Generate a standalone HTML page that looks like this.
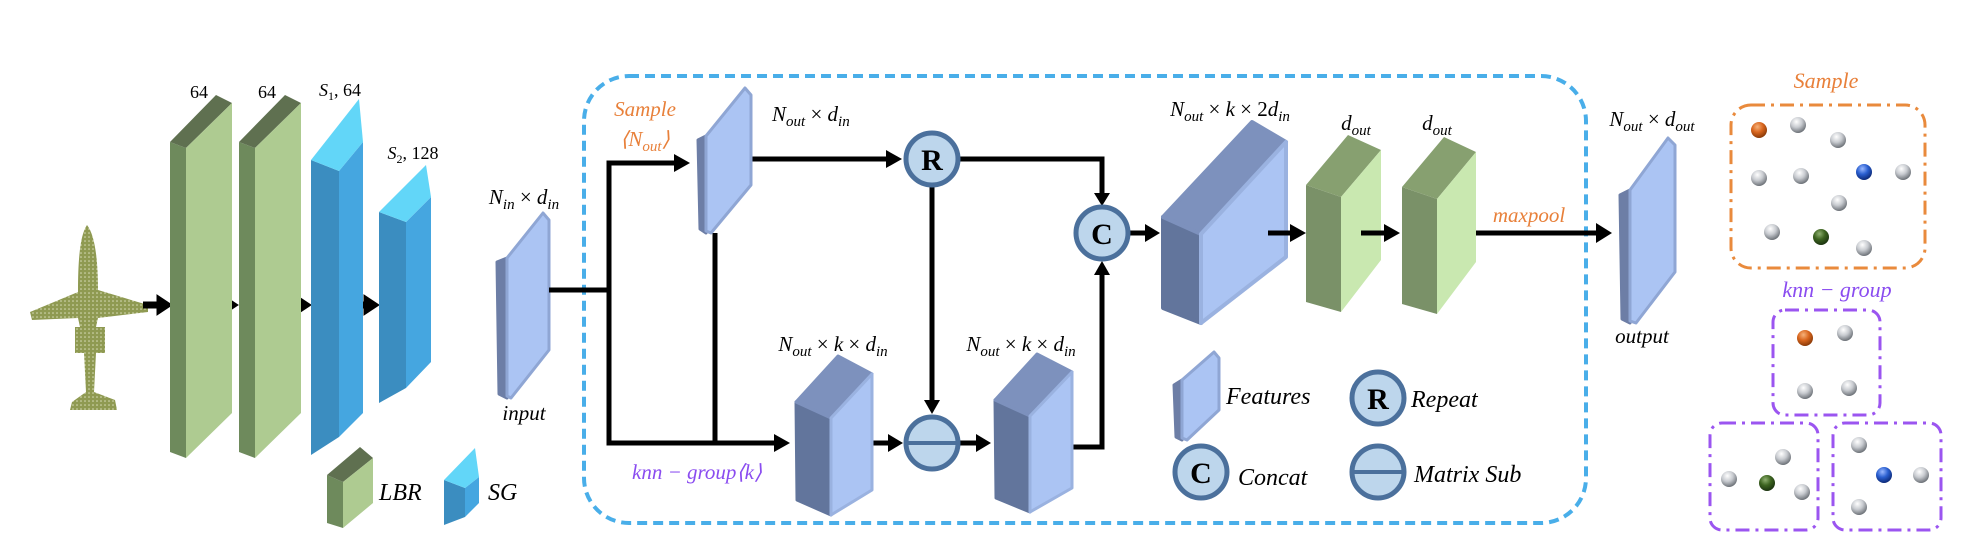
<!DOCTYPE html>
<html><head><meta charset="utf-8"><style>
html,body{margin:0;padding:0;background:#fff;}
svg{display:block;}
text{font-family:"Liberation Serif",serif;font-style:italic;fill:#000;}
</style></head><body>
<svg width="1988" height="548" viewBox="0 0 1988 548" xmlns="http://www.w3.org/2000/svg">
<defs>
<radialGradient id="gs" cx="0.4" cy="0.3" r="0.7"><stop offset="0" stop-color="#fff"/><stop offset="0.5" stop-color="#c8cbd0"/><stop offset="1" stop-color="#6d7278"/></radialGradient>
<radialGradient id="go" cx="0.4" cy="0.3" r="0.7"><stop offset="0" stop-color="#f6b27a"/><stop offset="0.5" stop-color="#d9661e"/><stop offset="1" stop-color="#8a3a08"/></radialGradient>
<radialGradient id="gb" cx="0.4" cy="0.3" r="0.7"><stop offset="0" stop-color="#9ab8ff"/><stop offset="0.5" stop-color="#2a5fd0"/><stop offset="1" stop-color="#0d2a78"/></radialGradient>
<radialGradient id="gg" cx="0.4" cy="0.3" r="0.7"><stop offset="0" stop-color="#8fb070"/><stop offset="0.5" stop-color="#3d6420"/><stop offset="1" stop-color="#1c3410"/></radialGradient>
<pattern id="dots" width="4" height="4" patternUnits="userSpaceOnUse"><rect width="4" height="4" fill="#8f9a52"/><circle cx="1" cy="1" r="0.8" fill="#d8dcb8"/></pattern>
</defs>

<!-- airplane -->
<g fill="url(#dots)">
<path d="M87,225 C80,235 78,260 78,292 L30,312 L32,320 L78,318 L80,327 L75,327 L75,353 L84,353 L86,392 L72,402 L70,410 L117,410 L115,400 L94,392 L96,353 L105,353 L105,327 L96,327 L98,318 L148,312 L148,305 L98,290 C98,260 95,235 87,225 Z"/>
</g>

<!-- small arrows -->
<g fill="#000" stroke="#000">
<line x1="143" y1="305" x2="160" y2="305" stroke-width="7"/><polygon points="157,295 172,305 157,315"/>
<line x1="209" y1="305" x2="226" y2="305" stroke-width="7"/><polygon points="223,295 238,305 223,315"/>
<line x1="281" y1="305" x2="299" y2="305" stroke-width="7"/><polygon points="296,295 311,305 296,315"/>
<line x1="349" y1="305" x2="367" y2="305" stroke-width="7"/><polygon points="364,295 379,305 364,315"/>
</g>

<!-- LBR blocks -->
<g>
<polygon points="170,142 186,148 186,458 170,452" fill="#6e8a5c"/>
<polygon points="170,142 216,95 232,103 186,148" fill="#5f7050"/>
<polygon points="186,148 232,103 232,413 186,458" fill="#aecb91"/>
<polygon points="239,142 255,148 255,458 239,452" fill="#6e8a5c"/>
<polygon points="239,142 285,95 301,103 255,148" fill="#5f7050"/>
<polygon points="255,148 301,103 301,413 255,458" fill="#aecb91"/>
</g>
<!-- SG blocks -->
<g>
<polygon points="311,160 339,171 339,437 311,455" fill="#3b8dc0"/>
<polygon points="339,171 363,142 363,413 339,437" fill="#45a6e0"/>
<polygon points="311,160 359,99 363,142 339,171" fill="#62d6f8"/>
<polygon points="379,212 406,222 406,388 379,403" fill="#3b8dc0"/>
<polygon points="406,222 431,197 431,362 406,388" fill="#45a6e0"/>
<polygon points="379,212 426,165 431,197 406,222" fill="#62d6f8"/>
</g>
<g font-size="18" text-anchor="middle">
<text x="199" y="98" style="font-style:normal">64</text>
<text x="267" y="98" style="font-style:normal">64</text>
<text x="340" y="96"><tspan>S</tspan><tspan font-size="12" dy="4" style="font-style:normal">1</tspan><tspan dy="-4" style="font-style:normal">, 64</tspan></text>
<text x="413" y="159"><tspan>S</tspan><tspan font-size="12" dy="4" style="font-style:normal">2</tspan><tspan dy="-4" style="font-style:normal">, 128</tspan></text>
</g>

<!-- legend LBR / SG -->
<polygon points="327,475 343,482 343,528 327,523" fill="#6e8a5c"/>
<polygon points="327,475 360,447 373,458 343,482" fill="#5f7050"/>
<polygon points="343,482 373,458 373,503 343,528" fill="#aecb91"/>
<text x="379" y="500" font-size="24">LBR</text>
<polygon points="444,480 465,488 465,517 444,525" fill="#3b8dc0"/>
<polygon points="465,488 479,477 479,503 465,517" fill="#45a6e0"/>
<polygon points="444,480 475,448 479,477 465,488" fill="#62d6f8"/>
<text x="488" y="500" font-size="24">SG</text>

<!-- input slab -->
<g stroke-linejoin="round">
<polygon points="497,262 507,258 507,398 499,394" fill="#6d7ea6" stroke="#6d7ea6" stroke-width="3"/>
<polygon points="507,258 543,213 549,220 549,350 511,398 507,396" fill="#abc4f3" stroke="#8fa6d4" stroke-width="3"/>
</g>
<text x="524" y="204" font-size="21" text-anchor="middle">N<tspan font-size="15" dy="5">in</tspan><tspan dy="-5" style="font-style:normal"> × </tspan>d<tspan font-size="15" dy="5">in</tspan></text>
<text x="524" y="420" font-size="21" text-anchor="middle">input</text>

<!-- dashed box -->
<rect x="584" y="76" width="1002" height="447" rx="45" fill="none" stroke="#49aee9" stroke-width="4" stroke-dasharray="10 6"/>

<!-- connectors -->
<g stroke="#000" stroke-width="5" fill="none">
<polyline points="549,290 609,290"/>
<polyline points="676,163 609,163 609,443 776,443"/>
<line x1="715" y1="233" x2="715" y2="443"/>
<line x1="751" y1="159" x2="888" y2="159"/>
<polyline points="958,159 1102,159 1102,193"/>
<line x1="932" y1="185" x2="932" y2="402"/>
<line x1="872" y1="443" x2="890" y2="443"/>
<line x1="958" y1="443" x2="978" y2="443"/>
<polyline points="1072,447 1102,447 1102,272"/>
<line x1="1128" y1="233" x2="1148" y2="233"/>
<line x1="1476" y1="233" x2="1598" y2="233"/>
</g>
<g fill="#000">
<polygon points="674,154 690,163 674,172"/>
<polygon points="774,434 790,443 774,452"/>
<polygon points="886,150 902,159 886,168"/>
<polygon points="1094,193 1102,206 1110,193"/>
<polygon points="924,400 932,414 940,400"/>
<polygon points="888,434 903,443 888,452"/>
<polygon points="976,434 991,443 976,452"/>
<polygon points="1094,275 1102,261 1110,275"/>
<polygon points="1145,224 1160,233 1145,242"/>
<polygon points="1596,223 1612,233 1596,243"/>
</g>

<!-- sample slab -->
<g stroke-linejoin="round">
<polygon points="698,140 706,136 706,233 700,229" fill="#6d7ea6" stroke="#6d7ea6" stroke-width="3"/>
<polygon points="706,136 745,88 751,95 751,185 711,233 706,231" fill="#abc4f3" stroke="#8fa6d4" stroke-width="3"/>
</g>
<text x="645" y="116" font-size="21" text-anchor="middle" style="fill:#e8803a">Sample</text>
<text x="645" y="146" font-size="21" text-anchor="middle" style="fill:#e8803a">⟨N<tspan font-size="15" dy="5">out</tspan><tspan dy="-5">⟩</tspan></text>
<text x="772" y="121" font-size="21">N<tspan font-size="15" dy="5">out</tspan><tspan dy="-5" style="font-style:normal"> × </tspan>d<tspan font-size="15" dy="5">in</tspan></text>

<!-- knn blocks -->
<g stroke-linejoin="round" stroke-width="3">
<polygon points="796,402 831,418 831,515 797,500" fill="#62759c" stroke="#62759c"/>
<polygon points="796,402 838,356 872,374 831,418" fill="#7d91bd" stroke="#7d91bd"/>
<polygon points="831,418 872,374 872,490 831,515" fill="#abc4f3" stroke="#9ab2e0"/>
<polygon points="995,400 1030,416 1030,512 996,498" fill="#62759c" stroke="#62759c"/>
<polygon points="995,400 1037,354 1072,372 1030,416" fill="#7d91bd" stroke="#7d91bd"/>
<polygon points="1030,416 1072,372 1072,488 1030,512" fill="#abc4f3" stroke="#9ab2e0"/>
</g>
<text x="833" y="351" font-size="21" text-anchor="middle">N<tspan font-size="15" dy="5">out</tspan><tspan dy="-5" style="font-style:normal"> × </tspan>k<tspan style="font-style:normal"> × </tspan>d<tspan font-size="15" dy="5">in</tspan></text>
<text x="1021" y="351" font-size="21" text-anchor="middle">N<tspan font-size="15" dy="5">out</tspan><tspan dy="-5" style="font-style:normal"> × </tspan>k<tspan style="font-style:normal"> × </tspan>d<tspan font-size="15" dy="5">in</tspan></text>
<text x="632" y="479" font-size="21" style="fill:#8a4cf0">knn − group⟨k⟩</text>

<!-- circles -->
<g stroke="#4b709c" stroke-width="5" fill="#bdd6ec">
<circle cx="932" cy="159" r="26"/>
<circle cx="1102" cy="233" r="26"/>
<circle cx="932" cy="443" r="26"/>
<circle cx="1378" cy="398" r="26"/>
<circle cx="1201" cy="472" r="26"/>
<circle cx="1378" cy="472" r="26"/>
</g>
<g stroke="#4b709c" stroke-width="4">
<line x1="906" y1="443" x2="958" y2="443"/>
<line x1="1352" y1="472" x2="1404" y2="472"/>
</g>
<g font-size="30" font-weight="bold" text-anchor="middle">
<text x="932" y="170" style="font-style:normal">R</text>
<text x="1102" y="244" style="font-style:normal">C</text>
<text x="1378" y="409" style="font-style:normal">R</text>
<text x="1201" y="483" style="font-style:normal">C</text>
</g>

<!-- big block -->
<g stroke-linejoin="round" stroke-width="4">
<polygon points="1163,217 1201,234 1201,323 1163,308" fill="#62759c" stroke="#62759c"/>
<polygon points="1163,217 1252,122 1286,142 1201,234" fill="#7d91bd" stroke="#7d91bd"/>
<polygon points="1201,234 1286,142 1286,257 1201,323" fill="#abc4f3" stroke="#9ab2e0"/>
</g>
<text x="1230" y="116" font-size="21" text-anchor="middle">N<tspan font-size="15" dy="5">out</tspan><tspan dy="-5" style="font-style:normal"> × </tspan>k<tspan style="font-style:normal"> × 2</tspan>d<tspan font-size="15" dy="5">in</tspan></text>
<line x1="1268" y1="233" x2="1292" y2="233" stroke="#000" stroke-width="5"/>

<!-- dout blocks -->
<polygon points="1306,185 1341,197 1341,312 1306,302" fill="#7a9168"/>
<polygon points="1306,185 1348,135 1381,150 1341,197" fill="#87a070"/>
<polygon points="1341,197 1381,150 1381,260 1341,312" fill="#c9e8b0"/>
<polygon points="1402,187 1437,199 1437,314 1402,304" fill="#7a9168"/>
<polygon points="1402,187 1444,137 1476,152 1437,199" fill="#87a070"/>
<polygon points="1437,199 1476,152 1476,262 1437,314" fill="#c9e8b0"/>
<line x1="1361" y1="233" x2="1386" y2="233" stroke="#000" stroke-width="5"/>
<polygon points="1384,224 1400,233 1384,242" fill="#000"/>
<polygon points="1290,224 1306,233 1290,242" fill="#000"/>
<text x="1356" y="130" font-size="21" text-anchor="middle">d<tspan font-size="15" dy="5">out</tspan></text>
<text x="1437" y="130" font-size="21" text-anchor="middle">d<tspan font-size="15" dy="5">out</tspan></text>
<text x="1529" y="222" font-size="21" text-anchor="middle" style="fill:#e8803a">maxpool</text>

<!-- output slab -->
<g stroke-linejoin="round">
<polygon points="1620,195 1630,190 1630,323 1622,319" fill="#6d7ea6" stroke="#6d7ea6" stroke-width="3"/>
<polygon points="1630,190 1668,138 1675,145 1675,272 1636,323 1630,321" fill="#abc4f3" stroke="#8fa6d4" stroke-width="3"/>
</g>
<text x="1652" y="126" font-size="21" text-anchor="middle">N<tspan font-size="15" dy="5">out</tspan><tspan dy="-5" style="font-style:normal"> × </tspan>d<tspan font-size="15" dy="5">out</tspan></text>
<text x="1642" y="343" font-size="21" text-anchor="middle">output</text>

<!-- legend features -->
<g stroke-linejoin="round">
<polygon points="1174,385 1182,380 1182,440 1176,437" fill="#6d7ea6" stroke="#6d7ea6" stroke-width="3"/>
<polygon points="1182,380 1214,352 1219,358 1219,410 1187,440 1182,438" fill="#abc4f3" stroke="#8fa6d4" stroke-width="3"/>
</g>
<text x="1226" y="404" font-size="24">Features</text>
<text x="1411" y="407" font-size="24">Repeat</text>
<text x="1238" y="485" font-size="24">Concat</text>
<text x="1414" y="482" font-size="24">Matrix Sub</text>

<!-- right panel -->
<text x="1826" y="88" font-size="22" text-anchor="middle" style="fill:#e8803a">Sample</text>
<rect x="1731" y="105" width="194" height="163" rx="20" fill="none" stroke="#e98a3c" stroke-width="3" stroke-dasharray="14 6 3 6"/>
<text x="1837" y="297" font-size="22" text-anchor="middle" style="fill:#8a4cf0">knn − group</text>
<g fill="none" stroke="#9b55f0" stroke-width="3" stroke-dasharray="14 6 3 6">
<rect x="1773" y="310" width="107" height="105" rx="12"/>
<rect x="1710" y="423" width="108" height="107" rx="12"/>
<rect x="1833" y="423" width="108" height="107" rx="12"/>
</g>
<g>
<circle cx="1759" cy="130" r="8" fill="url(#go)"/>
<circle cx="1798" cy="125" r="8" fill="url(#gs)"/>
<circle cx="1838" cy="140" r="8" fill="url(#gs)"/>
<circle cx="1759" cy="178" r="8" fill="url(#gs)"/>
<circle cx="1801" cy="176" r="8" fill="url(#gs)"/>
<circle cx="1864" cy="172" r="8" fill="url(#gb)"/>
<circle cx="1903" cy="172" r="8" fill="url(#gs)"/>
<circle cx="1839" cy="203" r="8" fill="url(#gs)"/>
<circle cx="1772" cy="232" r="8" fill="url(#gs)"/>
<circle cx="1821" cy="237" r="8" fill="url(#gg)"/>
<circle cx="1864" cy="248" r="8" fill="url(#gs)"/>
<circle cx="1805" cy="338" r="8" fill="url(#go)"/>
<circle cx="1845" cy="333" r="8" fill="url(#gs)"/>
<circle cx="1805" cy="391" r="8" fill="url(#gs)"/>
<circle cx="1849" cy="388" r="8" fill="url(#gs)"/>
<circle cx="1783" cy="457" r="8" fill="url(#gs)"/>
<circle cx="1729" cy="479" r="8" fill="url(#gs)"/>
<circle cx="1767" cy="483" r="8" fill="url(#gg)"/>
<circle cx="1802" cy="492" r="8" fill="url(#gs)"/>
<circle cx="1859" cy="445" r="8" fill="url(#gs)"/>
<circle cx="1884" cy="475" r="8" fill="url(#gb)"/>
<circle cx="1921" cy="475" r="8" fill="url(#gs)"/>
<circle cx="1859" cy="507" r="8" fill="url(#gs)"/>
</g>
</svg>
</body></html>
